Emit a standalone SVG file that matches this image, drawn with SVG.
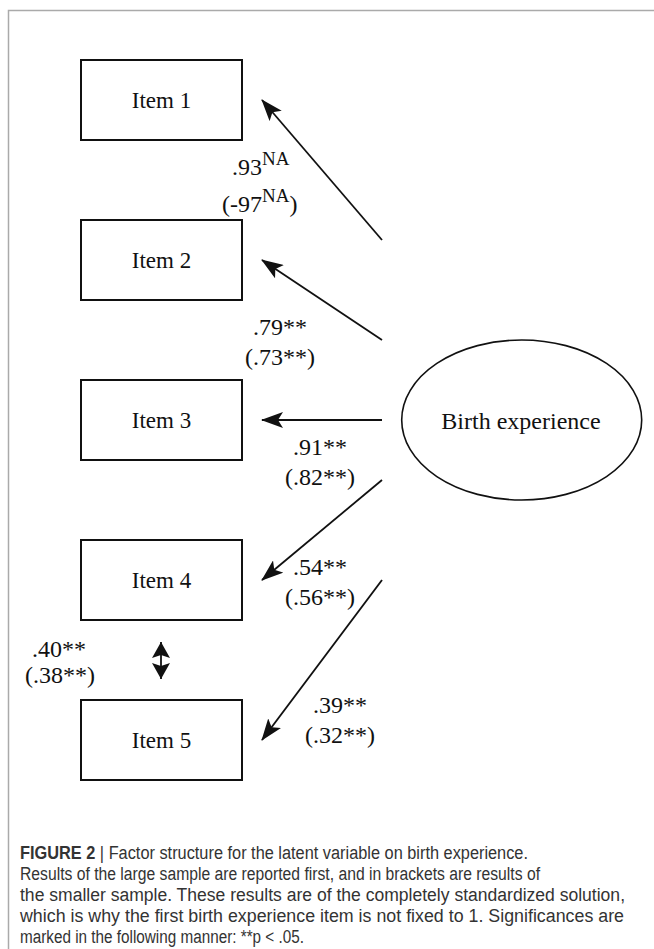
<svg xmlns="http://www.w3.org/2000/svg" width="654" height="949" viewBox="0 0 654 949">
<style>
.box{fill:#fff;stroke:#111;stroke-width:2}
.lat{fill:#fff;stroke:#111;stroke-width:1.6}
.t{font-family:"Liberation Serif","Times New Roman",serif;font-size:24px;fill:#111;text-anchor:middle}
.it{font-size:23px}
.sup{font-size:19px}
.c{font-family:"Liberation Sans",Arial,sans-serif;font-size:18px;fill:#333}
.b{font-weight:bold;fill:#333}
.con line{stroke:#111;stroke-width:1.8}
</style>
<defs>
<marker id="ah" markerUnits="userSpaceOnUse" markerWidth="22" markerHeight="16" viewBox="0 0 22 16" refX="21" refY="8" orient="auto">
<path d="M0,0 L22,8 L0,16 L5,8 Z" fill="#111"/>
</marker>
<marker id="dh" markerUnits="userSpaceOnUse" markerWidth="16" markerHeight="18" viewBox="0 0 16 18" refX="16" refY="9" orient="auto-start-reverse">
<path d="M0,0 L16,9 L0,18 L3,9 Z" fill="#111"/>
</marker>
</defs>
<rect width="654" height="949" fill="#fff"/>
<path d="M8.5,949 V10.5 H654" fill="none" stroke="#aaa" stroke-width="1.5"/>
<g id="item1"><rect class="box" x="81" y="60" width="161" height="80"/><text class="t it" x="161.5" y="108">Item 1</text></g>
<g id="item2"><rect class="box" x="81" y="220" width="161" height="80"/><text class="t it" x="161.5" y="268">Item 2</text></g>
<g id="item3"><rect class="box" x="81" y="380" width="161" height="80"/><text class="t it" x="161.5" y="428">Item 3</text></g>
<g id="item4"><rect class="box" x="81" y="540" width="161" height="80"/><text class="t it" x="161.5" y="588">Item 4</text></g>
<g id="item5"><rect class="box" x="81" y="700" width="161" height="80"/><text class="t it" x="161.5" y="748">Item 5</text></g>
<g id="birth"><ellipse class="lat" cx="521.7" cy="420" rx="120" ry="80"/><text class="t" x="521" y="429">Birth experience</text></g>
<g id="connectors" class="con">
<line x1="382" y1="240" x2="262" y2="100" marker-end="url(#ah)"/>
<line x1="382" y1="340" x2="262" y2="260" marker-end="url(#ah)"/>
<line x1="382" y1="420" x2="262" y2="420" marker-end="url(#ah)"/>
<line x1="382" y1="480" x2="262" y2="580" marker-end="url(#ah)"/>
<line x1="382" y1="580" x2="262" y2="740" marker-end="url(#ah)"/>
<line x1="161" y1="642" x2="161" y2="679" marker-start="url(#dh)" marker-end="url(#dh)"/>
</g>
<g id="labels">
<text class="t" x="232" y="175" style="text-anchor:start">.93<tspan class="sup" dy="-10">NA</tspan></text>
<text class="t" x="222" y="212" style="text-anchor:start">(-97<tspan class="sup" dy="-10">NA</tspan><tspan dy="10">)</tspan></text>
<text class="t" x="280" y="335">.79**</text>
<text class="t" x="280" y="365">(.73**)</text>
<text class="t" x="320" y="455">.91**</text>
<text class="t" x="320" y="485">(.82**)</text>
<text class="t" x="320" y="575">.54**</text>
<text class="t" x="320" y="605">(.56**)</text>
<text class="t" x="340" y="713">.39**</text>
<text class="t" x="340" y="743">(.32**)</text>
<text class="t" x="59" y="657">.40**</text>
<text class="t" x="60" y="683">(.38**)</text>
</g>
<g id="caption">
<text class="c" x="20" y="859" textLength="508" lengthAdjust="spacingAndGlyphs"><tspan class="b">FIGURE 2</tspan> | Factor structure for the latent variable on birth experience.</text>
<text class="c" x="20" y="880" textLength="520" lengthAdjust="spacingAndGlyphs">Results of the large sample are reported first, and in brackets are results of</text>
<text class="c" x="20" y="901" textLength="605" lengthAdjust="spacingAndGlyphs">the smaller sample. These results are of the completely standardized solution,</text>
<text class="c" x="20" y="922" textLength="604" lengthAdjust="spacingAndGlyphs">which is why the first birth experience item is not fixed to 1. Significances are</text>
<text class="c" x="20" y="943" textLength="284" lengthAdjust="spacingAndGlyphs">marked in the following manner: **p &lt; .05.</text>
</g>
</svg>
